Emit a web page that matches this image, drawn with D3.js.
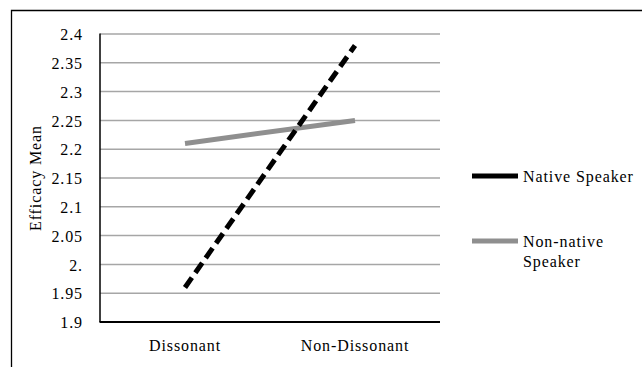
<!DOCTYPE html>
<html><head><meta charset="utf-8">
<script src="https://cdn.jsdelivr.net/npm/d3@7"></script>
<style>body{margin:0;background:#fff}svg{display:block}svg text{font-family:"Liberation Serif","Times New Roman",serif;fill:#000;font-size:16px;letter-spacing:0.9px}</style>
</head><body><svg id="c" width="642" height="367"></svg>
<script>
const categories = ["Dissonant", "Non-Dissonant"];
const seriesNames = ["Native Speaker", "Non-native Speaker"];
const nativeValues = [1.96, 2.38];
const nonNativeValues = [2.21, 2.25];
const yTicks = [1.9, 1.95, 2.0, 2.05, 2.1, 2.15, 2.2, 2.25, 2.3, 2.35, 2.4];
const yTickLabels = ["1.9", "1.95", "2.", "2.05", "2.1", "2.15", "2.2", "2.25", "2.3", "2.35", "2.4"];
const yTitle = "Efficacy Mean";

const svg = d3.select("#c");
svg.append("path").attr("d","M11.5,400 V10.5 H700").attr("fill","none").attr("stroke","#000").attr("stroke-width",1.3);

const L=100, R=440, T=34, B=322;
const x = d3.scaleBand().domain(categories).range([L,R]);
const y = d3.scaleLinear().domain([1.9,2.4]).range([B,T]);

svg.append("g").selectAll("line").data(yTicks.slice(1)).join("line")
  .attr("x1",L).attr("x2",R).attr("y1",d=>y(d)).attr("y2",d=>y(d))
  .attr("stroke","#a6a6a6").attr("stroke-width",1.5);

const yAxis = d3.axisLeft(y).tickValues(yTicks).tickSize(0).tickPadding(17)
  .tickFormat((d,i)=>yTickLabels[i]);
const gy = svg.append("g").attr("transform",`translate(${L},0)`).call(yAxis);
gy.select(".domain").remove();
gy.selectAll("text").attr("dy","0.36em");
svg.append("line").attr("x1",L).attr("x2",L).attr("y1",T-0.5).attr("y2",B).attr("stroke","#000").attr("stroke-width",1.5);

const xAxis = d3.axisBottom(x).tickSize(0).tickPadding(0);
const gx = svg.append("g").attr("transform",`translate(0,${B})`).call(xAxis);
gx.select(".domain").remove();
gx.selectAll("text").attr("dy",null).attr("y",28.5);
svg.append("line").attr("x1",L-0.5).attr("x2",R).attr("y1",B).attr("y2",B).attr("stroke","#000").attr("stroke-width",2);

svg.append("text").attr("transform",`translate(41,178) rotate(-90)`).attr("text-anchor","middle").text(yTitle);

const line = d3.line().x((d,i)=>x(categories[i])+x.bandwidth()/2).y(d=>y(d));
svg.append("path").datum(nonNativeValues).attr("d",line).attr("fill","none")
  .attr("stroke","#8f8f8f").attr("stroke-width",5);
svg.append("path").datum(nativeValues).attr("d",line).attr("fill","none")
  .attr("stroke","#000").attr("stroke-width",5).attr("stroke-dasharray","12,6");

// legend
svg.append("line").attr("x1",472).attr("x2",518).attr("y1",176).attr("y2",176)
  .attr("stroke","#000").attr("stroke-width",5);
svg.append("text").attr("x",523).attr("y",182).text(seriesNames[0]);
svg.append("line").attr("x1",472).attr("x2",518).attr("y1",241).attr("y2",241)
  .attr("stroke","#8f8f8f").attr("stroke-width",5);
const t2 = svg.append("text").attr("x",523).attr("y",247);
t2.append("tspan").attr("x",523).text("Non-native");
t2.append("tspan").attr("x",523).attr("dy",20).text("Speaker");
</script></body></html>
